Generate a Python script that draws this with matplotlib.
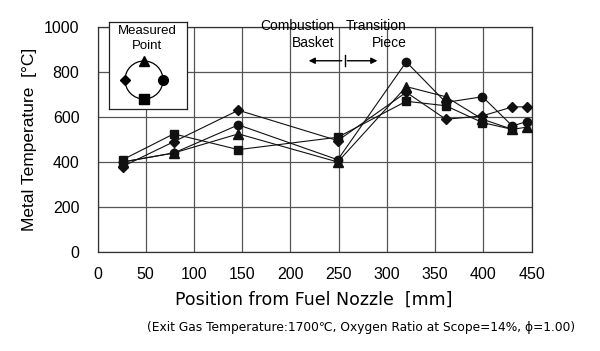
import matplotlib.pyplot as plt
from matplotlib.patches import Circle

plt.rcParams["font.family"] = ["Liberation Sans", "DejaVu Sans"]

# positions along the liner (mm) and metal temperature at each measured point
POSITIONS = [26, 79, 146, 249, 320, 361, 399, 430, 445]
TEMP_DIAMOND = [380, 490, 630, 495, 710, 590, 605, 645, 645]
TEMP_CIRCLE = [400, 440, 565, 410, 845, 665, 690, 560, 580]
TEMP_TRIANGLE = [400, 440, 525, 400, 735, 690, 590, 545, 555]
TEMP_SQUARE = [410, 525, 455, 510, 670, 650, 575, 545]

X_TICKS = list(range(0, 451, 50))
Y_TICKS = list(range(0, 1001, 200))

W, H = 600, 351
fig = plt.figure(figsize=(W / 100, H / 100), dpi=100)
ax = fig.add_axes([97.5 / W, 1 - 252 / H, (531.7 - 97.5) / W, (252 - 27) / H])

series = [
    (TEMP_DIAMOND, "D", 5),
    (TEMP_CIRCLE, "o", 6),
    (TEMP_TRIANGLE, "^", 6.5),
    (TEMP_SQUARE, "s", 6),
]
for temps, marker, ms in series:
    ax.plot(POSITIONS[:len(temps)], temps, color="#111111", linewidth=0.8,
            marker=marker, markersize=ms, markerfacecolor="#111111",
            markeredgecolor="#111111", zorder=3)

ax.set_xlim(0, 450)
ax.set_ylim(0, 1000)
ax.set_xticks(X_TICKS)
ax.set_yticks(Y_TICKS)
ax.tick_params(length=0, labelsize=11.5)
ax.tick_params(axis="y", pad=13)
ax.tick_params(axis="x", pad=11)
ax.grid(True, color="#555555", linewidth=0.9, zorder=0)
for sp in ax.spines.values():
    sp.set_color("#333333")
    sp.set_linewidth(0.9)

ax.set_ylabel("Metal Temperature  [\u00b0C]", fontsize=12.5, labelpad=5)
fig.text(314 / W, 1 - 300 / H, "Position from Fuel Nozzle  [mm]",
         family="DejaVu Sans", ha="center", va="center", fontsize=12.5)

# combustion basket / transition piece boundary
ax.text(245, 967, "Combustion\nBasket", ha="right", va="center", fontsize=10,
        linespacing=1.3)
ax.text(320, 967, "Transition\nPiece", ha="right", va="center", fontsize=10,
        linespacing=1.3)
ax.annotate("", xy=(216, 850), xytext=(256, 850),
            arrowprops=dict(arrowstyle="-|>", color="black", lw=1.0, mutation_scale=9))
ax.annotate("", xy=(293, 850), xytext=(256, 850),
            arrowprops=dict(arrowstyle="-|>", color="black", lw=1.0, mutation_scale=9))
ax.plot([256, 256], [825, 875], color="black", linewidth=1.0)

fig.text(361 / W, 1 - 328 / H,
         "(Exit Gas Temperature:1700\u2103, Oxygen Ratio at Scope=14%, \u03d5=1.00)",
         family="DejaVu Sans", ha="center", va="center", fontsize=8.8)

# inset key for the measuring positions around the circumference
inset = fig.add_axes([109 / W, 1 - 109 / H, (186.7 - 109) / W, (109 - 21.7) / H])
inset.set_xlim(0, 77.7)
inset.set_ylim(0, 87.3)
inset.set_xticks([])
inset.set_yticks([])
for sp in inset.spines.values():
    sp.set_color("#222222")
    sp.set_linewidth(0.9)
inset.set_zorder(5)
inset.text(38, 78, "Measured", ha="center", va="center", fontsize=9.5)
inset.text(38, 63.5, "Point", ha="center", va="center", fontsize=9.5)
cx, cy, r = 35, 29, 19
inset.add_patch(Circle((cx, cy), r, fill=False, color="black", linewidth=0.9))
inset.plot([cx], [cy + r], marker="^", color="black", markersize=6.5)
inset.plot([cx - r], [cy], marker="D", color="black", markersize=5)
inset.plot([cx + r], [cy], marker="o", color="black", markersize=7)
inset.plot([cx], [cy - r], marker="s", color="black", markersize=7)

fig.savefig("out.png", dpi=100, facecolor="white")
